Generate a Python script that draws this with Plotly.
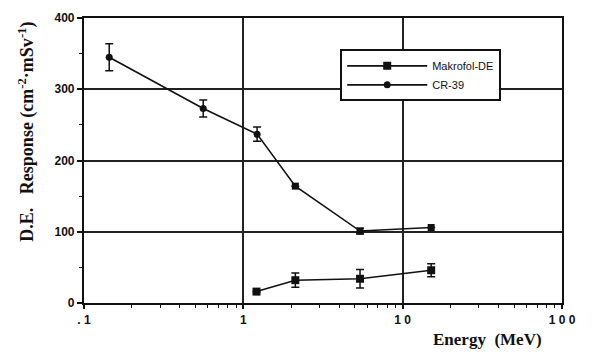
import plotly.graph_objects as go

# CR-39 response vs. neutron energy
cr39_energy = [0.144, 0.56, 1.22, 2.12, 5.4, 15.1]
cr39_resp = [345, 273, 237, 164, 101, 106]
cr39_err = [19, 12, 10, 0, 4, 0]
cr39_symbols = ["circle", "circle", "circle", "square", "square", "square"]

# Makrofol-DE response vs. neutron energy
mak_energy = [1.21, 2.12, 5.4, 15.1]
mak_resp = [16, 32, 34, 46]
mak_err = [0, 10, 13, 9]

x_tickvals = [0.1, 1, 10, 100]
x_ticktext = ["<b>. 1</b>", "<b>1</b>", "<b>1 0</b>", "<b>1 0 0</b>"]
y_tickvals = [0, 100, 200, 300, 400]
y_ticktext = ["<b>0</b>", "<b>100</b>", "<b>200</b>", "<b>300</b>", "<b>400</b>"]

fig = go.Figure()

fig.add_trace(go.Scatter(
    x=mak_energy, y=mak_resp, name="Makrofol-DE", mode="lines+markers",
    line=dict(color="#111", width=1.6),
    marker=dict(symbol="square", size=8, color="#111"),
    error_y=dict(type="data", array=mak_err, visible=True, color="#111",
                 thickness=1.5, width=4),
))

fig.add_trace(go.Scatter(
    x=cr39_energy, y=cr39_resp, name="CR-39", mode="lines+markers",
    line=dict(color="#111", width=1.6),
    marker=dict(symbol=cr39_symbols, size=7, color="#111"),
    error_y=dict(type="data", array=cr39_err, visible=True, color="#111",
                 thickness=1.5, width=4),
))

fig.update_xaxes(
    type="log", range=[-1, 2],
    tickvals=x_tickvals, ticktext=x_ticktext,
    showline=True, linecolor="#111", linewidth=2.2, mirror=True,
    showgrid=True, gridcolor="#222", gridwidth=1.6,
    ticks="outside", ticklen=4, tickwidth=1.5, tickcolor="#111",
    minor=dict(ticks="outside", ticklen=3, tickwidth=1.2, tickcolor="#111",
               dtick="D1", showgrid=False),
    tickfont=dict(family="Liberation Sans", size=12, color="#111"),
    zeroline=False,
)
fig.update_yaxes(
    range=[0, 400], tickvals=y_tickvals, ticktext=y_ticktext,
    showline=True, linecolor="#111", linewidth=2.2, mirror=True,
    showgrid=True, gridcolor="#222", gridwidth=1.6,
    ticks="outside", ticklen=5, tickwidth=1.5, tickcolor="#111",
    minor=dict(ticks="outside", ticklen=3, tickwidth=1.2, tickcolor="#111",
               dtick=50, showgrid=False),
    tickfont=dict(family="Liberation Sans", size=12, color="#111"),
    zeroline=False,
)

fig.add_annotation(
    text="<b>Energy  (MeV)</b>", xref="paper", yref="paper",
    x=0.845, y=-0.128, xanchor="center", yanchor="middle", showarrow=False,
    font=dict(family="Liberation Serif", size=17, color="#111"),
)
fig.add_annotation(
    text="<b>D.E.   Response (cm<sup>-2</sup>·mSv<sup>-1</sup>)</b>",
    xref="paper", yref="paper", x=-0.12, y=0.6,
    xanchor="center", yanchor="middle", textangle=-90, showarrow=False,
    font=dict(family="Liberation Serif", size=18, color="#111"),
)

fig.update_layout(
    width=593, height=354,
    margin=dict(l=84, r=31, t=11, b=51),
    paper_bgcolor="white", plot_bgcolor="white",
    showlegend=True,
    legend=dict(
        x=0.536, y=0.89, xanchor="left", yanchor="top",
        bgcolor="white", bordercolor="#111", borderwidth=2,
        font=dict(family="Liberation Sans", size=11, color="#111"),
        itemwidth=80, tracegroupgap=0,
    ),
)

fig.write_html("out.html")
